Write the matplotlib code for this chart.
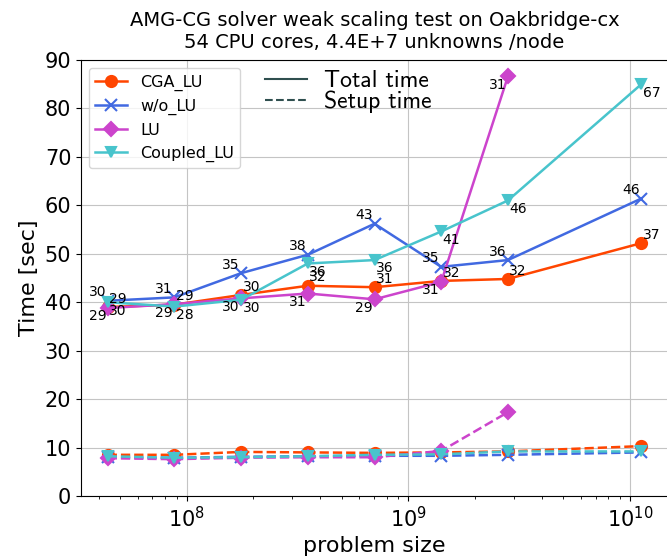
import numpy as np
import matplotlib
matplotlib.use('Agg')
import matplotlib.pyplot as plt
from matplotlib.lines import Line2D

# problem size = 4.4E+7 unknowns per node
nodes = [1, 2, 4, 8, 16, 32, 64, 256]
unknowns_per_node = 4.4e7

labels = ['CGA_LU', 'w/o_LU', 'LU', 'Coupled_LU']
colors = ['#ff4500', '#4169e1', '#cc44cc', '#48c4cc']
markers = ['o', 'x', 'D', 'v']
msizes = [8, 8, 7, 7]

total_time = {
    'CGA_LU':     [39.0, 39.5, 41.5, 43.4, 43.1, 44.4, 44.8, 52.2],
    'w/o_LU':     [40.3, 41.0, 46.0, 49.8, 56.2, 47.3, 48.7, 61.4],
    'LU':         [38.8, 39.6, 40.8, 41.8, 40.6, 44.2, 86.6],
    'Coupled_LU': [40.0, 39.1, 40.5, 48.0, 48.7, 54.6, 61.0, 85.0],
}
setup_time = {
    'CGA_LU':     [8.5, 8.5, 9.1, 9.0, 8.9, 9.0, 9.2, 10.3],
    'w/o_LU':     [8.0, 7.9, 8.1, 8.2, 8.3, 8.3, 8.5, 9.0],
    'LU':         [7.8, 7.6, 7.9, 8.0, 8.0, 9.3, 17.3],
    'Coupled_LU': [8.2, 7.9, 8.0, 8.2, 8.5, 8.6, 9.2, 9.2],
}
iterations = {
    'CGA_LU':     [29, 29, 30, 32, 31, 32, 32, 37],
    'w/o_LU':     [30, 31, 35, 38, 43, 35, 36, 46],
    'LU':         [29, 29, 30, 31, 29, 31, 31],
    'Coupled_LU': [30, 28, 30, 36, 36, 41, 46, 67],
}

# where the iteration count goes around each point
label_pos = {
    'CGA_LU':     ((1, 1), 'left', 'bottom'),
    'w/o_LU':     ((-1, 1), 'right', 'bottom'),
    'LU':         ((-1, -1), 'right', 'top'),
    'Coupled_LU': ((1, -1), 'left', 'top'),
}

x_all = np.array(nodes) * unknowns_per_node

fig = plt.figure(figsize=(6.67, 5.59), dpi=100)
# right spine sits on the image edge, as in the reference
ax = fig.add_axes([81 / 667, 63 / 559, 587 / 667, 436 / 559])

for name, c, m, ms in zip(labels, colors, markers, msizes):
    tt = total_time[name]
    st = setup_time[name]
    x = x_all[:len(tt)]
    ax.plot(x, tt, color=c, marker=m, ms=ms, lw=1.8, mew=1.5, label=name)
    ax.plot(x, st, color=c, marker=m, ms=ms, lw=1.8, mew=1.5, ls='--')
    (dx, dy), ha, va = label_pos[name]
    for xi, yi, it in zip(x, tt, iterations[name]):
        ax.annotate(str(it), (xi, yi), xytext=(dx, dy), textcoords='offset points',
                    ha=ha, va=va, fontsize=10)

ax.set_xscale('log')
ax.set_ylim(0, 90)
ax.set_yticks(range(0, 91, 10))
ax.grid(True, which='major', color='#c4c4c4', lw=0.8)
ax.tick_params(axis='both', which='major', labelsize=15)

ax.set_xlabel('problem size', fontsize=16)
ax.set_ylabel('Time [sec]', fontsize=16)
ax.set_title('AMG-CG solver weak scaling test on Oakbridge-cx\n54 CPU cores, 4.4E+7 unknowns /node',
             fontsize=14, pad=9)

leg1 = ax.legend(loc='upper left', fontsize=11.5)
ax.add_artist(leg1)

style_handles = [Line2D([], [], color='#2f4f4f', lw=1.5, ls='-'),
                 Line2D([], [], color='#2f4f4f', lw=1.5, ls='--')]
ax.legend(style_handles, ['Total time', 'Setup time'], loc='upper left',
          bbox_to_anchor=(0.277, 1.025), frameon=False, handlelength=1.8,
          handletextpad=0.7, labelspacing=-0.08,
          prop={'family': 'cmss10', 'size': 17})

fig.savefig('out.png', dpi=100)
